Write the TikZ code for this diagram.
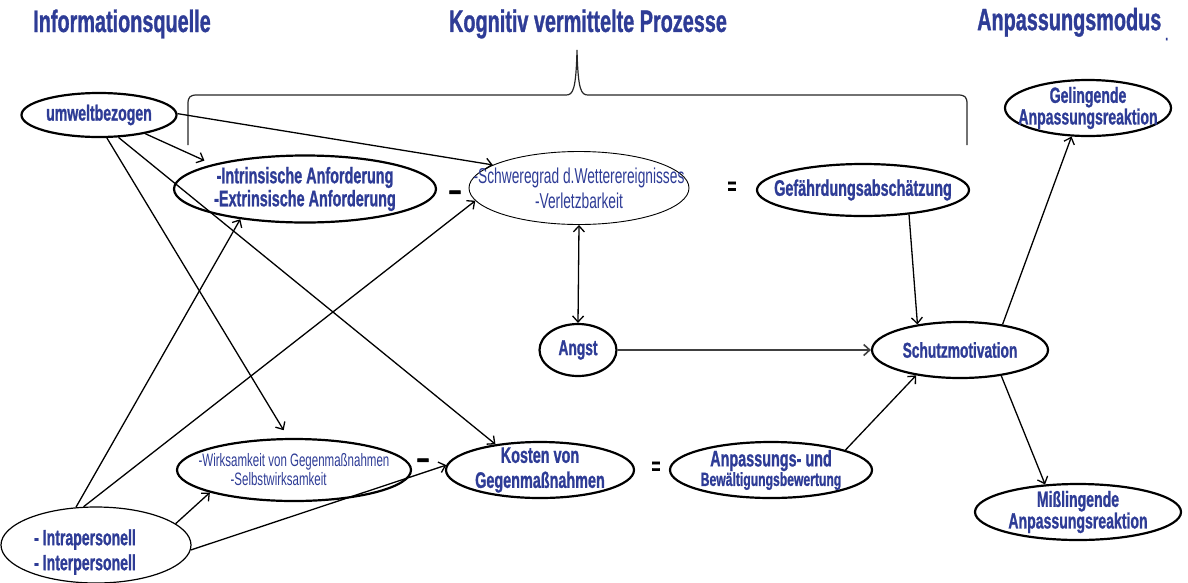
\documentclass[tikz,border=0pt]{standalone}
\usepackage{fontspec}
\setmainfont{Liberation Sans}
\newfontfamily\cf[FakeStretch=0.64, BoldFeatures={FakeBold=1}]{Liberation Sans}
\usetikzlibrary{shapes.geometric,arrows.meta}
\definecolor{tblue}{RGB}{46,60,150}
\begin{document}
\begin{tikzpicture}[x=1pt,y=-1pt,
  ell/.style={draw, ellipse, line width=2.2pt, inner sep=0pt},
  thinell/.style={draw, ellipse, line width=0.9pt, inner sep=0pt},
  lbl/.style={text=tblue, align=center, inner sep=0pt},
  ttl/.style={text=tblue, inner sep=0pt, font=\cf\bfseries\fontsize{31}{32}\selectfont},
  arr/.style={-{Straight Barb[length=6pt,width=11pt]}, line width=1.3pt},
  darr/.style={{Straight Barb[length=6pt,width=11pt]}-{Straight Barb[length=6pt,width=11pt]}, line width=1.3pt},
  op/.style={inner sep=0pt, font=\cf\bfseries\fontsize{24}{24}\selectfont},
  dashop/.style={inner sep=0pt, font=\cf\bfseries\fontsize{34}{34}\selectfont}
]
\useasboundingbox (0,0) rectangle (1188,582);

% titles
\node[ttl] (t1) at (122,24) {Informationsquelle};
\node[ttl] (t2) at (588,24) {Kognitiv vermittelte Prozesse};
\node[ttl, anchor=west] (t3) at (977,24) {Anpassungsmodus\hspace{4pt}\raisebox{-10pt}{\fontsize{16}{16}\selectfont.}};

% brace
\draw[line width=1.2pt, black!85] (188,145) -- (188,104) .. controls (188,97) and (190,95) .. (197,95)
  -- (566,95) .. controls (573,95) and (576,90) .. (577,50)
  .. controls (578,90) and (581,95) .. (588,95) -- (958,95)
  .. controls (965,95) and (967,97) .. (967,104) -- (967,145);

% ellipses
\node[ell, minimum width=155pt, minimum height=44pt] (U) at (99,115) {};
\node[ell, minimum width=262pt, minimum height=67pt] (I) at (305,189) {};
\node[thinell, minimum width=220pt, minimum height=73pt] (S) at (579,188) {};
\node[ell, minimum width=212pt, minimum height=52pt] (G) at (863,190) {};
\node[ell, minimum width=77pt, minimum height=52pt] (A) at (578,350) {};
\node[ell, minimum width=176pt, minimum height=56pt] (M) at (960,350) {};
\node[ell, minimum width=166pt, minimum height=56pt] (GL) at (1088,108) {};
\node[ell, minimum width=206pt, minimum height=56pt] (MI) at (1078,512) {};
\node[ell, minimum width=234pt, minimum height=62pt] (W) at (294,470) {};
\node[ell, minimum width=188pt, minimum height=56pt] (K) at (540,470) {};
\node[ell, minimum width=202pt, minimum height=56pt] (AP) at (771,470) {};
\node[draw, ellipse, line width=1.2pt, inner sep=0pt, minimum width=190pt, minimum height=76pt] (IP) at (96,545) {};

% labels
\node[lbl, font=\cf\bfseries\fontsize{22}{22}\selectfont] at (U) {umweltbezogen};
\node[lbl, font=\cf\bfseries\fontsize{22.5}{23}\selectfont] at (I) {-Intrinsische Anforderung\\-Extrinsische Anforderung};
\node[lbl, font=\cf\fontsize{21.5}{25}\selectfont] at (S) {-Schweregrad d.Wetterereignisses\\-Verletzbarkeit};
\node[lbl, font=\cf\bfseries\fontsize{22.5}{23}\selectfont] at (G) {Gefährdungsabschätzung};
\node[lbl, font=\cf\bfseries\fontsize{21.5}{22}\selectfont] at (A) {Angst};
\node[lbl, font=\cf\bfseries\fontsize{21.5}{22}\selectfont] at (M) {Schutzmotivation};
\node[lbl, font=\cf\bfseries\fontsize{22}{18.5}\selectfont] at (GL) {Gelingende\\Anpassungsreaktion};
\node[lbl, font=\cf\bfseries\fontsize{22}{18.5}\selectfont] at (MI) {Mißlingende\\Anpassungsreaktion};
\node[lbl, align=left, font=\cf\fontsize{18}{19}\selectfont] at (W) {-Wirksamkeit von Gegenmaßnahmen\\\hspace*{32pt}-Selbstwirksamkeit};
\node[lbl, font=\cf\bfseries\fontsize{22.5}{25}\selectfont] at (K) {Kosten von\\Gegenmaßnahmen};
\node[lbl, font=\cf\bfseries\fontsize{22.5}{17}\selectfont] at (AP) {Anpassungs- und\\{\fontsize{19}{17}\selectfont Bewältigungsbewertung}};
\node[lbl, align=left, font=\cf\bfseries\fontsize{22}{25}\selectfont] at ([xshift=-11pt,yshift=-7pt]IP.center) {- Intrapersonell\\- Interpersonell};

% operators
\node[dashop] (o1) at (455,196) {–};
\node[op] (o2) at (732,188) {=};
\node[dashop] (o3) at (423,464) {–};
\node[op] (o4) at (656,468) {=};

% connectors
\draw[arr, shorten >=9pt] (U.-22) -- (I.165);
\draw[arr] (U.1) -- (S.165);
\draw[arr, shorten >=9pt] (U.-71) -- (W.100);
\draw[arr] (U.-49) -- (K.150);
\draw[arr] (IP.118) -- (I.205);
\draw[arr] (IP.108) -- (S.187);
\draw[arr] (IP.15) -- (W.195);
\draw[arr] (IP.-3) -- (K.177);
\draw[darr] (S.south) -- (A.north);
\draw[arr, line width=1.6pt, black!75] (A.east) -- (M.west);
\draw[arr] (G.-28) -- (M.149);
\draw[arr] (AP.15) -- (M.210);
\draw[arr] (M.31) -- (GL.240);
\draw[arr] (M.-32) -- (MI.140);
\end{tikzpicture}
\end{document}
